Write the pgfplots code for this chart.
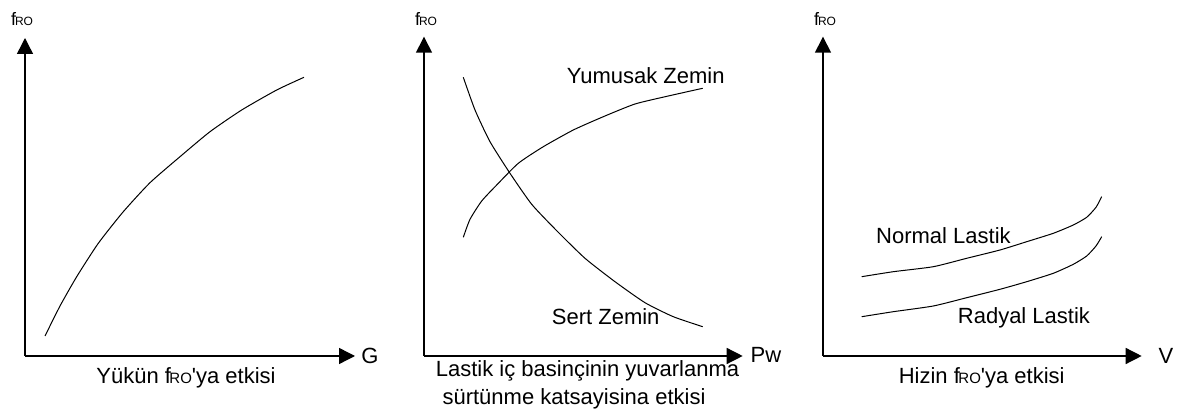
\documentclass[border=0pt]{standalone}
\usepackage{fontspec}
\setmainfont{Liberation Sans}
\usepackage{pgfplots}
\pgfplotsset{compat=1.18}
\usetikzlibrary{arrows.meta}

% f with small-capital RO subscript-like part
\newcommand{\froaxis}{{\fontsize{18}{18}\selectfont f\kern-1pt{\fontsize{12}{12}\selectfont RO}}}
\newcommand{\frotext}{f\kern-1.5pt{\fontsize{15}{15}\selectfont RO}}

\tikzset{bigtip/.style={-{Triangle[length=16pt,width=16pt]}}}

\pgfplotsset{
  panel/.style={
    x=1pt, y=1pt,
    xmin=0, xmax=318.7, ymin=0, ymax=319.3,
    axis lines*=left,
    xtick=\empty, ytick=\empty,
    enlargelimits=false,
    clip=false,
    anchor=origin,
    axis line style={line width=1.4pt, bigtip},
    cycle list={black\\},
    every axis plot/.append style={black, line width=1pt, smooth, tension=0.35, no marks},
    nodes={inner sep=0pt, font=\fontsize{22}{26}\selectfont},
  },
}

\begin{document}
\begin{tikzpicture}
\useasboundingbox (0,0) rectangle (1179pt,412pt);

% Load
\begin{axis}[panel, at={(25pt,56pt)}, xmax=330, ymax=318]
\addplot coordinates {(20,20) (35,50) (51.7,79.3) (73.3,112.7) (98.3,144.3) (125,173.3)
  (155,199.3) (185,224.3) (216.7,246) (251.7,266) (279,278.7)};
\node at (axis cs:345,0) {G};
\node at (axis cs:-3,337) {\froaxis};
\node[anchor=base] at (axis cs:161,-27.3) {Yükün \frotext\textquotesingle ya etkisi};
\end{axis}

% Tyre pressure
\begin{axis}[panel, at={(424pt,56pt)}]
\addplot coordinates {(39.3,278.7) (51,246) (66,214.3) (86,182.7) (107.7,151.7) (132.7,125.3)
  (161,97.7) (191,74.3) (221,53.3) (249.3,39.3) (278.7,29.3)};
\addplot coordinates {(39.3,118.7) (46,136.7) (57.7,155) (72.7,171) (94.3,192.7) (119.3,209.3)
  (149.3,226) (179.3,239.3) (211,252) (244.3,260) (278.7,267.7)};
\node[anchor=base west] at (axis cs:142.7,272) {Yumusak Zemin};
\node[anchor=base west] at (axis cs:127.7,31) {Sert Zemin};
\node at (axis cs:342,1) {Pw};
\node at (axis cs:2,337) {\froaxis};
\node[anchor=base] at (axis cs:163.5,-20.7) {Lastik iç basinçinin yuvarlanma};
\node[anchor=base] at (axis cs:150,-49) {sürtünme katsayisina etkisi};
\end{axis}

% Speed
\begin{axis}[panel, at={(823pt,56pt)}]
\addplot coordinates {(38.7,79.3) (70.3,84.3) (110.3,89.3) (143.7,97.7) (177,106) (203.7,114.3)
  (230.3,122.7) (250.3,131) (263.7,138.7) (273,148.7) (278.7,159.3)};
\addplot coordinates {(38.7,39.3) (70.3,44.3) (110.3,50) (143.7,58.3) (177,66.7) (203.7,74.3)
  (230.3,82.7) (250.3,91.7) (263.7,100) (273,110) (278.7,119.3)};
\node[anchor=base west] at (axis cs:53,112.7) {Normal Lastik};
\node[anchor=base west] at (axis cs:134.7,32.7) {Radyal Lastik};
\node at (axis cs:343,0) {V};
\node at (axis cs:2,337) {\froaxis};
\node[anchor=base] at (axis cs:158.7,-27.3) {Hizin \frotext\textquotesingle ya etkisi};
\end{axis}
\end{tikzpicture}
\end{document}
